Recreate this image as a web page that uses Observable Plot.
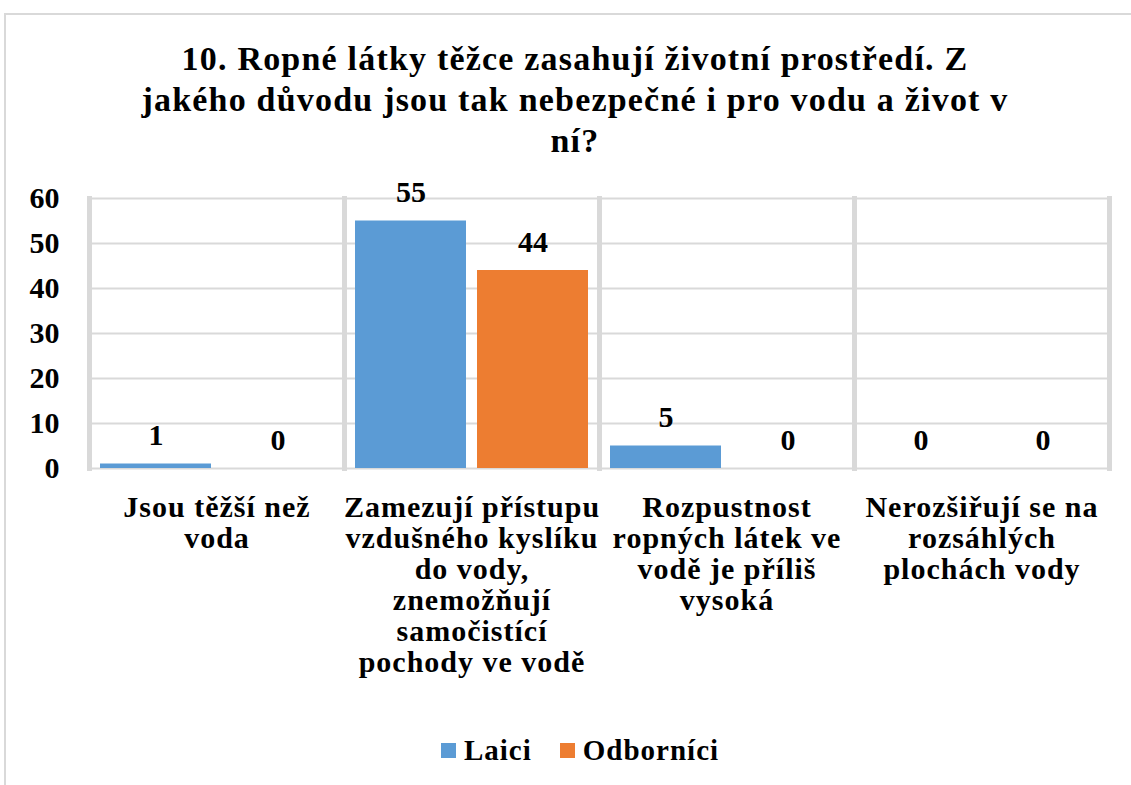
<!DOCTYPE html>
<html><head><meta charset="utf-8">
<script src="https://cdn.jsdelivr.net/npm/d3@7"></script>
<script src="https://cdn.jsdelivr.net/npm/@observablehq/plot@0.6"></script>
<style>
body{margin:0;background:#fff;font-family:'Liberation Serif',serif;color:#000;}
#wrap{position:relative;width:1131px;height:785px;overflow:hidden;background:#fff;}
#frame{position:absolute;left:4px;top:13px;width:1140px;height:790px;border:2px solid #d9d9d9;box-sizing:border-box;}
#title{position:absolute;left:0;top:38px;width:1150px;text-align:center;font-weight:bold;font-size:34px;line-height:41px;letter-spacing:1.2px;}
#chart{position:absolute;left:0;top:170px;}
#legend{position:absolute;left:0;top:730px;width:1160px;height:40px;display:flex;justify-content:center;align-items:center;font-weight:bold;font-size:29px;letter-spacing:1px;}
.item{display:flex;align-items:center;margin:0 14px;}
.sw{width:15px;height:15px;margin-right:8px;}
</style></head>
<body><div id="wrap"><div id="frame"></div><div id="title"></div><div id="chart"></div><div id="legend"></div></div>
<script>
const titleLines = ["10. Ropné látky těžce zasahují životní prostředí. Z", "jakého důvodu jsou tak nebezpečné i pro vodu a život v", "ní?"];
const categories = [
  "Jsou těžší než voda",
  "Zamezují přístupu vzdušného kyslíku do vody, znemožňují samočistící pochody ve vodě",
  "Rozpustnost ropných látek ve vodě je příliš vysoká",
  "Nerozšiřují se na rozsáhlých plochách vody"
];
const categoryLabels = [
  "Jsou těžší než\nvoda",
  "Zamezují přístupu\nvzdušného kyslíku\ndo vody,\nznemožňují\nsamočistící\npochody ve vodě",
  "Rozpustnost\nropných látek ve\nvodě je příliš\nvysoká",
  "Nerozšiřují se na\nrozsáhlých\nplochách vody"
];
const series = ["Laici", "Odborníci"];
const laici = [1, 55, 5, 0];
const odbornici = [0, 44, 0, 0];
const colors = ["#5b9bd5", "#ed7d31"];
const yTicks = [0, 10, 20, 30, 40, 50, 60];

const values = [laici, odbornici];
const data = categories.flatMap((c, i) => series.map((s, j) => ({category: c, series: s, value: values[j][i]})));

document.getElementById("title").innerHTML = titleLines.join("<br>");

const font = "'Liberation Serif', serif";
const chart = Plot.plot({
  width: 1131, height: 528,
  marginLeft: 88, marginRight: 21, marginTop: 28, marginBottom: 230,
  style: {fontFamily: font, fontWeight: "bold", color: "#000", background: "transparent", overflow: "visible"},
  fx: {domain: categories, paddingInner: 0, paddingOuter: 0, label: null, axis: null},
  x: {domain: series, paddingInner: 0.09, paddingOuter: 0.09, axis: null},
  y: {domain: [0, 60], label: null, axis: null},
  color: {domain: series, range: colors},
  marks: [
    Plot.gridY(yTicks, {stroke: "#d9d9d9", strokeOpacity: 1, strokeWidth: 2}),
    Plot.frame({anchor: "left", stroke: "#d9d9d9", strokeWidth: 5, strokeOpacity: 1}),
    Plot.frame({anchor: "right", stroke: "#d9d9d9", strokeWidth: 5, strokeOpacity: 1}),
    Plot.barY(data, {fx: "category", x: "series", y: "value", fill: "series"}),
    Plot.text(data, {fx: "category", x: "series", y: "value", text: d => String(d.value), lineAnchor: "bottom", dy: -19, fontSize: 30, fontWeight: "bold", fill: "#000", fontFamily: font}),
    Plot.axisY(yTicks, {anchor: "left", tickSize: 0, tickPadding: 30, fontSize: 30, fontWeight: "bold", label: null, fill: "#000", fontFamily: font}),
    Plot.axisFx({anchor: "bottom", tickSize: 0, tickPadding: 27, fontSize: 30, fontWeight: "bold", lineHeight: 1.03, label: null, fill: "#000", fontFamily: font,
      tickFormat: d => categoryLabels[categories.indexOf(d)]})
  ]
});
chart.querySelectorAll('g[aria-label="fx-axis tick label"]').forEach(g => g.style.letterSpacing = "1px");
document.getElementById("chart").appendChild(chart);

const legend = document.getElementById("legend");
series.forEach((s, i) => {
  const item = document.createElement("div");
  item.className = "item";
  item.innerHTML = `<span class="sw" style="background:${colors[i]}"></span><span>${s}</span>`;
  legend.appendChild(item);
});
</script></body></html>
